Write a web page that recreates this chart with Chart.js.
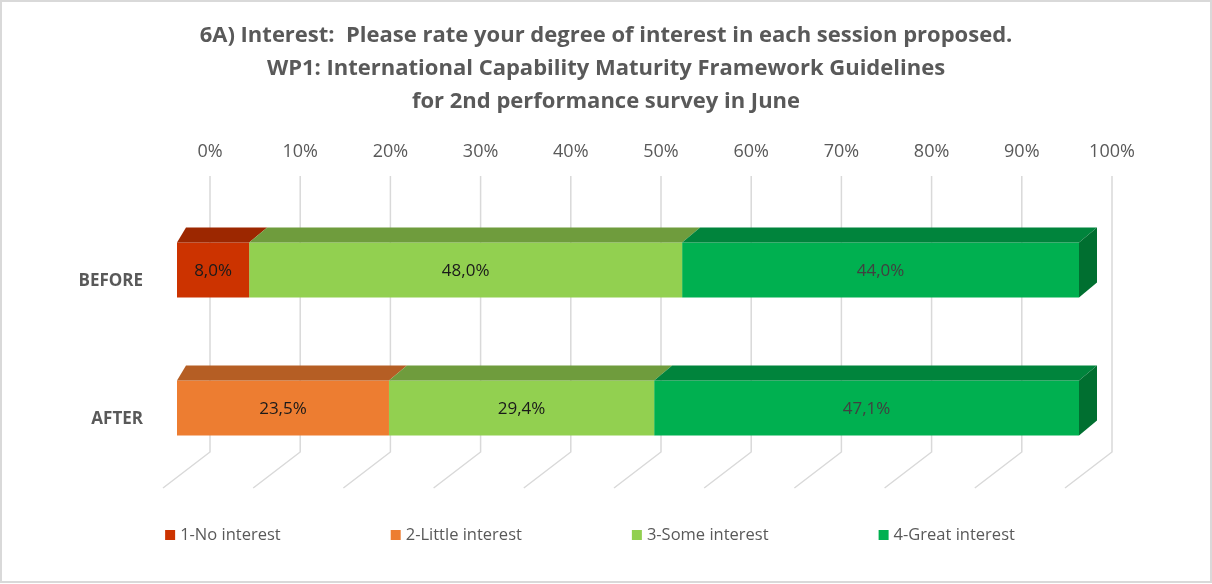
<!DOCTYPE html>
<html>
<head>
<meta charset="utf-8">
<script src="https://cdn.jsdelivr.net/npm/chart.js@4.4.1/dist/chart.umd.min.js"></script>
<style>
  html, body { margin: 0; padding: 0; background: #fff; }
  #wrap { position: relative; width: 1212px; height: 584px; }
</style>
</head>
<body>
<div id="wrap"><canvas id="chart" width="1212" height="584"></canvas></div>
<script>
const categories = ['BEFORE', 'AFTER'];
const seriesNames = ['1-No interest', '2-Little interest', '3-Some interest', '4-Great interest'];
const noInterest = [8.0, 0];
const littleInterest = [0, 23.5];
const someInterest = [48.0, 29.4];
const greatInterest = [44.0, 47.1];
const titleLines = [
    '6A) Interest:  Please rate your degree of interest in each session proposed.',
    'WP1: International Capability Maturity Framework Guidelines',
    'for 2nd performance survey in June'
];

const frontColors = ['#CC3300', '#ED7D31', '#92D050', '#00B050'];
const topColors = ['#9C2700', '#B55E24', '#6F9C3D', '#00843C'];
const sideColors = ['#7A1F00', '#8F4A1C', '#587C30', '#006F30'];
const valueColors = ['#1a1a1a', '#1a1a1a', '#1a1a1a', '#404040'];
const textGray = '#595959';

// 3d look: bar depth, back wall and floor offsets (pixels)
const DEPTH = { x: 18, y: 15 };
const BACK = { x: 33, y: -25 };
const FLOOR = { x: -47, y: 36 };
const PLOT_TOP = 201;
const FONT = "'Open Sans'";

Chart.defaults.font.family = FONT;

const fmt = v => v.toFixed(1).replace('.', ',') + '%';

const depthPlugin = {
    id: 'depth',
    beforeDatasetsDraw(chart) {
        const { ctx, chartArea, scales: { x } } = chart;
        ctx.save();
        ctx.strokeStyle = '#d9d9d9';
        ctx.lineWidth = 1.5;
        x.ticks.forEach(t => {
            const px = x.getPixelForValue(t.value) + BACK.x;
            ctx.beginPath();
            ctx.moveTo(px, chartArea.top + BACK.y);
            ctx.lineTo(px, chartArea.bottom + BACK.y);
            ctx.lineTo(px + FLOOR.x, chartArea.bottom + BACK.y + FLOOR.y);
            ctx.stroke();
        });
        ctx.restore();
    },
    afterDatasetsDraw(chart) {
        const { ctx, scales: { x } } = chart;
        const zero = x.getPixelForValue(0);
        const sets = chart.data.datasets;
        ctx.save();
        sets.forEach((ds, i) => {
            chart.getDatasetMeta(i).data.forEach((bar, j) => {
                if (!ds.data[j]) return;
                const p = bar.getProps(['x', 'y', 'base', 'height'], true);
                const x0 = p.base, x1 = p.x;
                const top = p.y - p.height / 2, bottom = p.y + p.height / 2;
                const dl = Math.abs(x0 - zero) < 1 ? DEPTH.x / 2 : DEPTH.x;

                ctx.fillStyle = topColors[i];
                ctx.beginPath();
                ctx.moveTo(x0, top);
                ctx.lineTo(x0 + dl, top - DEPTH.y);
                ctx.lineTo(x1 + DEPTH.x, top - DEPTH.y);
                ctx.lineTo(x1, top);
                ctx.closePath();
                ctx.fill();

                const last = sets.slice(i + 1).every(d => !d.data[j]);
                if (last) {
                    ctx.fillStyle = sideColors[i];
                    ctx.beginPath();
                    ctx.moveTo(x1, top);
                    ctx.lineTo(x1 + DEPTH.x, top - DEPTH.y);
                    ctx.lineTo(x1 + DEPTH.x, bottom - DEPTH.y);
                    ctx.lineTo(x1, bottom);
                    ctx.closePath();
                    ctx.fill();
                }

                ctx.fillStyle = valueColors[i];
                ctx.font = '17px ' + FONT;
                ctx.textAlign = 'center';
                ctx.textBaseline = 'middle';
                ctx.fillText(fmt(ds.data[j]), (x0 + x1) / 2, p.y + 1);
            });
        });
        ctx.restore();
    }
};

const legendPlugin = {
    id: 'bottomLegend',
    afterDraw(chart) {
        const { ctx } = chart;
        const gap = 110, box = 10, y = 535, center = 590;
        ctx.save();
        ctx.font = '16.5px ' + FONT;
        ctx.textBaseline = 'middle';
        ctx.textAlign = 'left';
        const widths = chart.data.datasets.map(d => box + 5 + ctx.measureText(d.label).width);
        let cx = center - (widths.reduce((a, b) => a + b, 0) + gap * (widths.length - 1)) / 2;
        chart.data.datasets.forEach((d, i) => {
            ctx.fillStyle = d.backgroundColor;
            ctx.fillRect(cx, y - box / 2, box, box);
            ctx.fillStyle = textGray;
            ctx.fillText(d.label, cx + box + 5, y);
            cx += widths[i] + gap;
        });
        // outer frame
        ctx.strokeStyle = '#d9d9d9';
        ctx.lineWidth = 2;
        ctx.strokeRect(1, 1, 1210, 581);
        ctx.restore();
    }
};

const seriesValues = [noInterest, littleInterest, someInterest, greatInterest];

new Chart(document.getElementById('chart'), {
    type: 'bar',
    data: {
        labels: categories,
        datasets: seriesNames.map((name, i) => ({
            label: name,
            data: seriesValues[i],
            backgroundColor: frontColors[i],
            borderWidth: 0,
            barPercentage: 0.4,
            categoryPercentage: 1
        }))
    },
    options: {
        indexAxis: 'y',
        responsive: false,
        animation: false,
        layout: { padding: { left: 0, right: 0, top: 0, bottom: 107 } },
        scales: {
            x: {
                position: 'top',
                stacked: true,
                min: 0,
                max: 100,
                grid: { display: false, drawTicks: false },
                border: { display: false },
                ticks: {
                    stepSize: 10,
                    padding: 38,
                    labelOffset: BACK.x,
                    color: textGray,
                    font: { size: 18 },
                    callback: v => v + '%'
                },
                afterFit: scale => {
                    const tb = scale.chart.titleBlock;
                    scale.height = PLOT_TOP - (tb ? tb.height : 118);
                }
            },
            y: {
                stacked: true,
                grid: { display: false, drawTicks: false },
                border: { display: false },
                ticks: {
                    padding: 34,
                    labelOffset: 11,
                    color: textGray,
                    font: { size: 17, weight: 'bold' }
                },
                afterFit: scale => { scale.width = 177; }
            },
            // empty strip on the right, keeps the plot width while the title stays centred
            spacer: {
                type: 'category',
                axis: 'y',
                position: 'right',
                grid: { display: false, drawTicks: false },
                border: { display: false },
                ticks: { display: false },
                afterFit: scale => { scale.width = 133; }
            }
        },
        plugins: {
            legend: { display: false },
            tooltip: { enabled: false },
            title: {
                display: true,
                text: titleLines,
                color: textGray,
                font: { size: 22, weight: 'bold', lineHeight: 1.5 },
                padding: { top: 19, bottom: 0 }
            }
        }
    },
    plugins: [depthPlugin, legendPlugin]
});
</script>
</body>
</html>
